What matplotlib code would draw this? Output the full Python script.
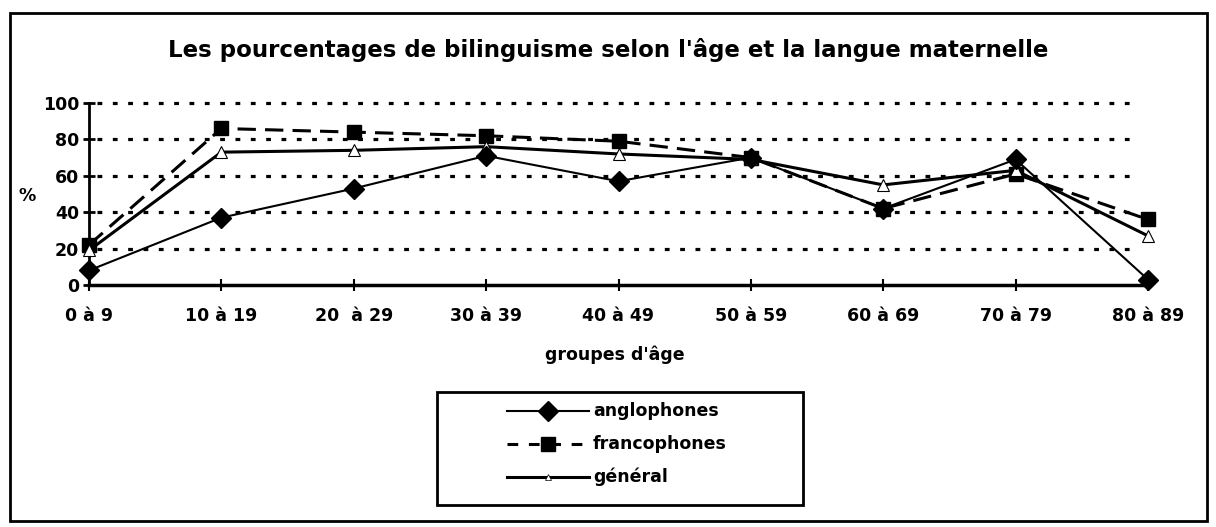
import numpy as np
import matplotlib.pyplot as plt
from matplotlib.patches import Rectangle
from matplotlib.lines import Line2D

groupes = ["0 à 9", "10 à 19", "20  à 29", "30 à 39", "40 à 49",
           "50 à 59", "60 à 69", "70 à 79", "80 à 89"]
anglophones = [8, 37, 53, 71, 57, 70, 42, 69, 3]
francophones = [22, 86, 84, 82, 79, 70, 42, 61, 36]
general = [19, 73, 74, 76, 72, 69, 55, 63, 27]
series_names = ['anglophones', 'francophones', 'général']

plt.rcParams['font.family'] = ['DejaVu Sans']
plt.rcParams['font.weight'] = 'bold'

W, H = 1216, 527
fig = plt.figure(figsize=(W/100, H/100), dpi=100)

def fx(px):
    return px / W

def fy(py):
    return 1 - py / H

# outer frame
fig.patches.append(Rectangle((fx(10), fy(521)), 1197/W, 508/H, transform=fig.transFigure,
                             fill=False, lw=2, ec='black'))

ax = fig.add_axes([fx(89), fy(285), (1148-89)/W, (285-103)/H])
x = np.arange(len(groupes))

st_a = dict(color='black', lw=1.5, marker='D', ms=10)
st_f = dict(color='black', lw=2.2, ls=(0, (6, 3)), marker='s', ms=10)
st_g = dict(color='black', lw=2.2, marker='^', ms=8, mfc='white', mec='black', mew=0.8)

ax.plot(x, anglophones, zorder=4, clip_on=False, **st_a)
ax.plot(x, francophones, zorder=3, clip_on=False, **st_f)
ax.plot(x, general, zorder=3, clip_on=False, **st_g)

# dotted grid
for v in [20, 40, 60, 80, 100]:
    ax.plot([0.06, 7.93], [v, v], color='black', ls=(0, (1.5, 3.3)), lw=2.3,
            dash_capstyle='butt', zorder=1, clip_on=False)

ax.set_xlim(0, 8)
ax.set_ylim(0, 100)
ax.set_yticks([0, 20, 40, 60, 80, 100])
ax.set_xticks(x)
ax.set_xticklabels(groupes, fontsize=12.5, fontweight='bold')
ax.tick_params(axis='y', labelsize=12.5, direction='inout', length=8, width=2, pad=3)
ax.tick_params(axis='x', direction='inout', length=8, width=1.5, pad=12)
for s in ['top', 'right']:
    ax.spines[s].set_visible(False)
ax.spines['left'].set_linewidth(2)
ax.spines['bottom'].set_linewidth(2.5)
for lbl in ax.get_yticklabels():
    lbl.set_fontweight('bold')

fig.text(fx(608), fy(50), "Les pourcentages de bilinguisme selon l'âge et la langue maternelle",
         ha='center', va='center', fontsize=16.5, fontweight='bold')
fig.text(fx(27), fy(196), "%", ha='center', va='center', fontsize=12.5, fontweight='bold')
fig.text(fx(615), fy(355), "groupes d'âge", ha='center', va='center', fontsize=12.5, fontweight='bold')

# legend drawn by hand
fig.patches.append(Rectangle((fx(437), fy(505)), 366/W, 113/H, transform=fig.transFigure,
                             fill=False, lw=2, ec='black'))
rows = [411, 444, 477]
styles = [st_a, dict(st_f, ls=(0, (3.5, 3.5))), dict(st_g, ms=5, mew=0.5)]
for yy, name, st in zip(rows, series_names, styles):
    fig.add_artist(Line2D([fx(507), fx(589)], [fy(yy), fy(yy)], transform=fig.transFigure,
                          **{k: v for k, v in st.items() if k not in ('marker', 'ms', 'mfc', 'mec', 'mew')}))
    fig.add_artist(Line2D([fx(548)], [fy(yy)], transform=fig.transFigure, ls='none',
                          **{k: v for k, v in st.items() if k not in ('lw', 'ls')}))
    fig.text(fx(593), fy(yy), name, ha='left', va='center', fontsize=12.5, fontweight='bold')

fig.savefig("out.png", dpi=100)
